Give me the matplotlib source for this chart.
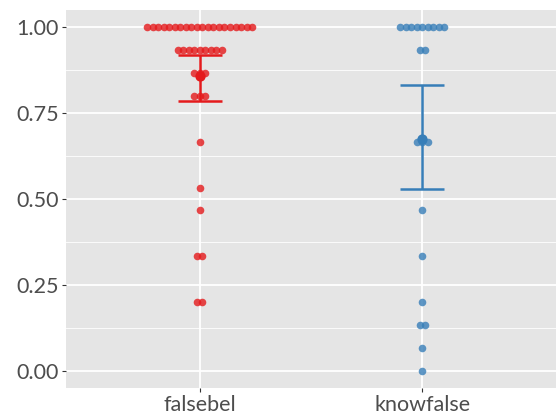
import matplotlib
matplotlib.use("Agg")
import matplotlib.pyplot as plt
import numpy as np

plt.rcParams['font.family'] = ['Lato', 'DejaVu Sans']

categories = ['falsebel', 'knowfalse']
colors = ['#E41A1C', '#377EB8']

falsebel_levels = [1.0, 0.933, 0.867, 0.8, 0.667, 0.533, 0.467, 0.333, 0.2]
falsebel_counts = [20, 9, 3, 3, 1, 1, 1, 2, 2]
knowfalse_levels = [1.0, 0.933, 0.667, 0.467, 0.333, 0.2, 0.133, 0.067, 0.0]
knowfalse_counts = [9, 2, 3, 1, 1, 1, 2, 1, 1]

means = [0.857, 0.675]
ci_low = [0.786, 0.530]
ci_high = [0.920, 0.831]

yticks = [0.0, 0.25, 0.5, 0.75, 1.0]
ytick_labels = ['0.00', '0.25', '0.50', '0.75', '1.00']

W, H = 556, 415
fig = plt.figure(figsize=(W / 100, H / 100), dpi=100)
ax = fig.add_axes([66 / W, 1 - 388 / H, 1 - 66 / W, (388 - 10) / H])
ax.set_facecolor('#E5E5E5')
ax.set_xlim(0.4, 2.6)
ax.set_ylim(-0.05, 1.05)

for y in np.arange(-0.125, 1.2, 0.25):
    ax.axhline(y, color='white', lw=0.6, zorder=0)
for y in yticks:
    ax.axhline(y, color='white', lw=1.3, zorder=0)
for i in range(len(categories)):
    ax.axvline(i + 1, color='white', lw=1.3, zorder=0)

spacing = 0.0248
groups = [(falsebel_levels, falsebel_counts), (knowfalse_levels, knowfalse_counts)]
for i, (levels, counts) in enumerate(groups):
    xs, ys = [], []
    for lv, c in zip(levels, counts):
        for k in range(c):
            xs.append(i + 1 + (k - (c - 1) / 2) * spacing)
            ys.append(lv)
    ax.scatter(xs, ys, s=30, color=colors[i], alpha=0.8, linewidths=0, zorder=2)
    ax.errorbar([i + 1], [means[i]],
                yerr=[[means[i] - ci_low[i]], [ci_high[i] - means[i]]],
                fmt='none', ecolor=colors[i], elinewidth=1.8, capsize=16,
                capthick=1.8, zorder=3)
    ax.scatter([i + 1], [means[i]], s=55, color=colors[i], zorder=4, linewidths=0)

ax.set_xticks([1, 2])
ax.set_xticklabels(categories)
ax.set_yticks(yticks)
ax.set_yticklabels(ytick_labels)
ax.tick_params(axis='both', length=3, width=0.8, color='#333333',
               labelcolor='#4D4D4D', labelsize=15.5, pad=2)
for s in ax.spines.values():
    s.set_visible(False)

fig.savefig('out.png', dpi=100)
